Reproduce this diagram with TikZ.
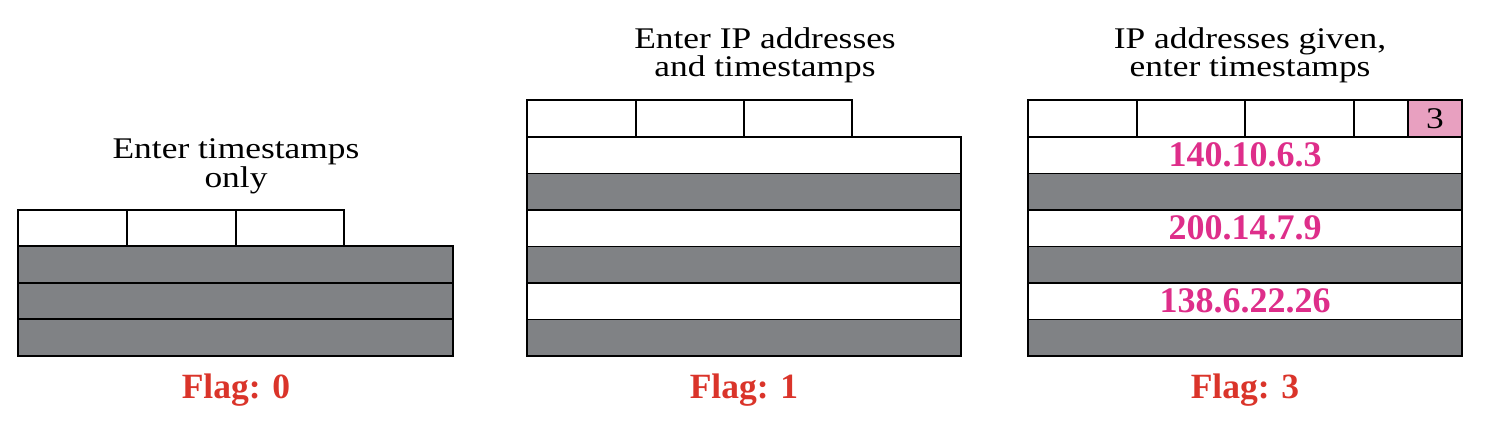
\documentclass[tikz,border=0pt]{standalone}
\usepackage{fontspec}
\setmainfont{Liberation Serif}
\newfontfamily\titlefont[FakeStretch=1.18]{Liberation Serif}
\definecolor{rowgray}{RGB}{128,130,133}
\definecolor{flagred}{RGB}{218,52,42}
\definecolor{ippink}{RGB}{222,46,138}
\definecolor{boxpink}{RGB}{232,160,192}
\begin{document}
\begin{tikzpicture}[x=1pt,y=-1pt,
  cellbase/.style={draw=black, line width=1.6pt, inner sep=0pt, outer sep=0pt},
  wcell/.style={cellbase, fill=white},
  gcell/.style={cellbase, fill=rowgray},
  pcell/.style={cellbase, fill=boxpink},
  toprow/.style={minimum height=36.5pt},
  fullrow/.style={minimum width=434pt, minimum height=36.5pt},
  titletext/.style={anchor=base, inner sep=0pt, font=\titlefont\fontsize{30}{30}\selectfont},
  flagtext/.style={anchor=base, inner sep=0pt, text=flagred, font=\bfseries\fontsize{35.5}{36}\selectfont},
  iptext/.style={text=ippink, font=\bfseries\fontsize{36}{36}\selectfont}
]
\useasboundingbox (0,0) rectangle (1486,436);

% ---------- Panel 1: Flag 0 ----------
\node[titletext] (t1a) at (236,158) {Enter timestamps};
\node[titletext] (t1b) at (236,187) {only};
\node[wcell, toprow, minimum width=109pt] (a1) at (72.5,228) {};
\node[wcell, toprow, minimum width=109pt] (a2) at (181.5,228) {};
\node[wcell, toprow, minimum width=108pt] (a3) at (290,228) {};
\node[gcell, fullrow, minimum width=435pt] (ar1) at (235.5,264.5) {};
\node[gcell, fullrow, minimum width=435pt] (ar2) at (235.5,301) {};
\node[gcell, fullrow, minimum width=435pt] (ar3) at (235.5,337.5) {};
\node[flagtext] (f0) at (236,398) {Flag: 0};

% ---------- Panel 2: Flag 1 ----------
\node[titletext] (t2a) at (765,48.5) {Enter IP addresses};
\node[titletext] (t2b) at (765,77) {and timestamps};
\node[wcell, toprow, minimum width=109pt] (b1) at (581.5,118.5) {};
\node[wcell, toprow, minimum width=108pt] (b2) at (690,118.5) {};
\node[wcell, toprow, minimum width=108pt] (b3) at (798,118.5) {};
\node[wcell, fullrow] (br1) at (744,155.25) {};
\node[gcell, fullrow] (br2) at (744,191.75) {};
\node[wcell, fullrow] (br3) at (744,228.25) {};
\node[gcell, fullrow] (br4) at (744,264.75) {};
\node[wcell, fullrow] (br5) at (744,301.25) {};
\node[gcell, fullrow] (br6) at (744,337.75) {};
\node[flagtext] (f1) at (744,398) {Flag: 1};

% ---------- Panel 3: Flag 3 ----------
\node[titletext] (t3a) at (1250,48.5) {IP addresses given,};
\node[titletext] (t3b) at (1250,77) {enter timestamps};
\node[wcell, toprow, minimum width=109pt] (c1) at (1082.5,118.5) {};
\node[wcell, toprow, minimum width=108pt] (c2) at (1191,118.5) {};
\node[wcell, toprow, minimum width=109pt] (c3) at (1299.5,118.5) {};
\node[wcell, toprow, minimum width=54pt] (c4) at (1381,118.5) {};
\node[pcell, toprow, minimum width=54pt, font=\titlefont\fontsize{30}{30}\selectfont] (c5) at (1435,118.5) {3};
\node[wcell, fullrow, iptext] (cr1) at (1245,155.25) {140.10.6.3};
\node[gcell, fullrow] (cr2) at (1245,191.75) {};
\node[wcell, fullrow, iptext] (cr3) at (1245,228.25) {200.14.7.9};
\node[gcell, fullrow] (cr4) at (1245,264.75) {};
\node[wcell, fullrow, iptext] (cr5) at (1245,301.25) {138.6.22.26};
\node[gcell, fullrow] (cr6) at (1245,337.75) {};
\node[flagtext] (f3) at (1245,398) {Flag: 3};
\end{tikzpicture}
\end{document}
